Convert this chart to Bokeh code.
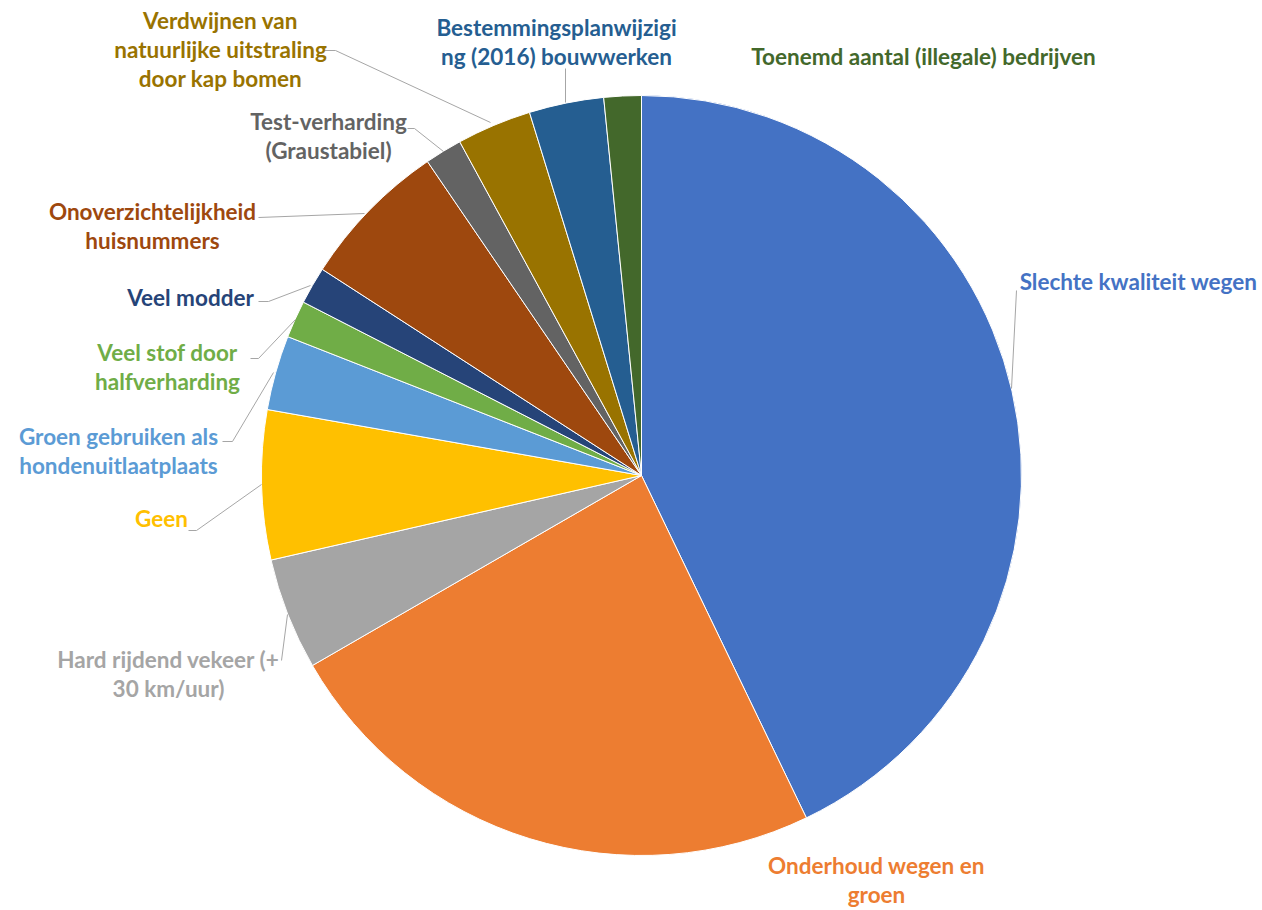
import numpy as np
from bokeh.plotting import figure
from bokeh.models import Range1d, ColumnDataSource
from bokeh.core.properties import value
from bokeh.embed import file_html
from bokeh.resources import INLINE

# ---- data ----
categories = [
    "Slechte kwaliteit wegen",
    "Onderhoud wegen en groen",
    "Hard rijdend vekeer (+ 30 km/uur)",
    "Geen",
    "Groen gebruiken als hondenuitlaatplaats",
    "Veel stof door halfverharding",
    "Veel modder",
    "Onoverzichtelijkheid huisnummers",
    "Test-verharding (Graustabiel)",
    "Verdwijnen van natuurlijke uitstraling door kap bomen",
    "Bestemmingsplanwijziging (2016) bouwwerken",
    "Toenemd aantal (illegale) bedrijven",
]
counts = [27, 15, 3, 4, 2, 1, 1, 4, 1, 2, 2, 1]
colors = ["#4472C4", "#ED7D31", "#A5A5A5", "#FFC000", "#5B9BD5", "#70AD47",
          "#264478", "#9E480E", "#636363", "#997300", "#255E91", "#43682B"]
label_lines = [
    ["Slechte kwaliteit wegen"],
    ["Onderhoud wegen en", "groen"],
    ["Hard rijdend vekeer (+", "30 km/uur)"],
    ["Geen"],
    ["Groen gebruiken als", "hondenuitlaatplaats"],
    ["Veel stof door", "halfverharding"],
    ["Veel modder"],
    ["Onoverzichtelijkheid", "huisnummers"],
    ["Test-verharding", "(Graustabiel)"],
    ["Verdwijnen van", "natuurlijke uitstraling", "door kap bomen"],
    ["Bestemmingsplanwijzigi", "ng (2016) bouwwerken"],
    ["Toenemd aantal (illegale) bedrijven"],
]

# ---- layout (page pixel coordinates) ----
PAGE_W, PAGE_H = 1262, 910
W, H = 1262, 910
CX, CY, R = 641, 475, 380
LINE_H = 29
# label centre x and first-line y (page coordinates)
label_pos = [
    (1138, 281), (876, 865), (168, 659), (161, 518), (118, 436), (167, 352),
    (190, 297), (152, 211), (328, 121), (220, 20), (556, 27), (923, 56),
]
leaders = [
    [(1016, 290), (1011, 388)],
    None,
    [(281, 660), (287, 614)],
    [(188, 530), (196, 530), (261, 484)],
    [(222, 441), (232, 441), (273, 372)],
    [(250, 358), (258, 358), (295, 319)],
    [(258, 301), (268, 301), (310, 285)],
    [(258, 217), (364, 213)],
    [(407, 128), (414, 128), (443, 151)],
    [(323, 50), (335, 50), (490, 122)],
    [(565, 68), (565, 102)],
    None,
]

def Y(v):
    return PAGE_H - v

p = figure(width=W, height=H, output_backend="svg", toolbar_location=None,
           x_range=Range1d(0, W), y_range=Range1d(PAGE_H - H, PAGE_H),
           min_border=0, outline_line_color=None, background_fill_color="white",
           border_fill_color="white")
p.axis.visible = False
p.grid.visible = False

total = float(sum(counts))
cum = np.cumsum([0] + counts)
starts = [np.pi / 2 - 2 * np.pi * cum[i] / total for i in range(len(counts))]
ends = [np.pi / 2 - 2 * np.pi * cum[i + 1] / total for i in range(len(counts))]

src = ColumnDataSource(dict(start=starts, end=ends, color=colors, cat=categories))
p.wedge(x=CX, y=Y(CY), radius=R, start_angle="start", end_angle="end",
        direction="clock", fill_color="color", line_color="white",
        line_width=1, source=src)

# leader lines
xs, ys = [], []
for ld in leaders:
    if ld is None:
        continue
    xs.append([pt[0] for pt in ld])
    ys.append([Y(pt[1]) for pt in ld])
p.multi_line(xs=xs, ys=ys, line_color="#A6A6A6", line_width=1)

# labels
tx, ty, tt, tc = [], [], [], []
for lines, (lx, ly), col in zip(label_lines, label_pos, colors):
    for k, ln in enumerate(lines):
        tx.append(lx)
        ty.append(Y(ly + k * LINE_H))
        tt.append(ln)
        tc.append(col)
p.text(x=tx, y=ty, text=tt, text_color=tc, text_align="center",
       text_baseline="middle", text_font=value("Lato"), text_font_style="bold",
       text_font_size="22.5px")

open("out.html", "w").write(file_html(p, INLINE))
